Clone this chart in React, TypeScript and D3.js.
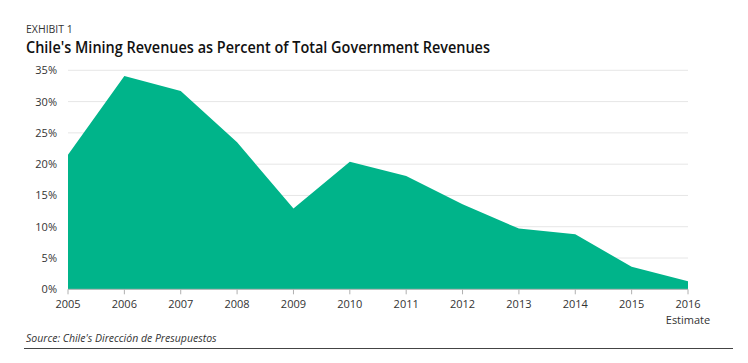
import React from "react";
import * as d3 from "d3";

const years = [2005, 2006, 2007, 2008, 2009, 2010, 2011, 2012, 2013, 2014, 2015, 2016];
const shares = [21.5, 34.1, 31.7, 23.5, 12.9, 20.4, 18.1, 13.6, 9.7, 8.8, 3.6, 1.3];
const yTicks = [0, 5, 10, 15, 20, 25, 30, 35];
const title = "Chile's Mining Revenues as Percent of Total Government Revenues";
const exhibit = "EXHIBIT 1";
const source = "Source: Chile's Dirección de Presupuestos";
const lastNote = "Estimate";

const W = 748, H = 363;
const FONT = "'Open Sans', 'Noto Sans', sans-serif";

export default function App() {
  const x = d3.scaleLinear().domain([2005, 2016]).range([68, 688]);
  const y = d3.scaleLinear().domain([0, 35]).range([289.3, 70.3]);
  const data = years.map((yr, i) => ({ yr, v: shares[i] }));
  const area = d3.area<{ yr: number; v: number }>()
    .x((d) => x(d.yr))
    .y0(y(0))
    .y1((d) => y(d.v));

  return (
    <svg width={W} height={H} style={{ position: "absolute", left: 0, top: 0, background: "#fff" }}>
      <text x={26} y={33} fontFamily={FONT} fontSize={10.5} fill="#333">{exhibit}</text>
      <text x={26} y={53} fontFamily={FONT} fontSize={16.5} fontWeight={600} fill="#111" textLength={464} lengthAdjust="spacingAndGlyphs">{title}</text>
      {yTicks.filter((t) => t > 0).map((t) => (
        <line key={"g" + t} x1={x(2005)} x2={x(2016)} y1={y(t)} y2={y(t)} stroke="#e6e6e6" strokeWidth={1} />
      ))}
      <path d={area(data) || ""} fill="#00b48a" />
      <line x1={x(2005)} x2={x(2016)} y1={y(0)} y2={y(0)} stroke="#b0b0b0" strokeWidth={1} />
      {years.map((yr) => (
        <g key={yr}>
          <line x1={x(yr)} x2={x(yr)} y1={y(0)} y2={y(0) + 5} stroke="#b0b0b0" strokeWidth={1} />
          <text x={x(yr)} y={308} textAnchor="middle" fontFamily={FONT} fontSize={11} fill="#333">{yr}</text>
        </g>
      ))}
      <text x={x(2016)} y={324} textAnchor="middle" fontFamily={FONT} fontSize={11} fill="#333">{lastNote}</text>
      {yTicks.map((t) => (
        <text key={"l" + t} x={57} y={y(t) + 4} textAnchor="end" fontFamily={FONT} fontSize={11} fill="#333">{t + "%"}</text>
      ))}
      <text x={26} y={342} fontFamily={FONT} fontSize={10.5} fontStyle="italic" fill="#333">{source}</text>
      <line x1={24} x2={733} y1={348.5} y2={348.5} stroke="#444" strokeWidth={1.2} />
    </svg>
  );
}
